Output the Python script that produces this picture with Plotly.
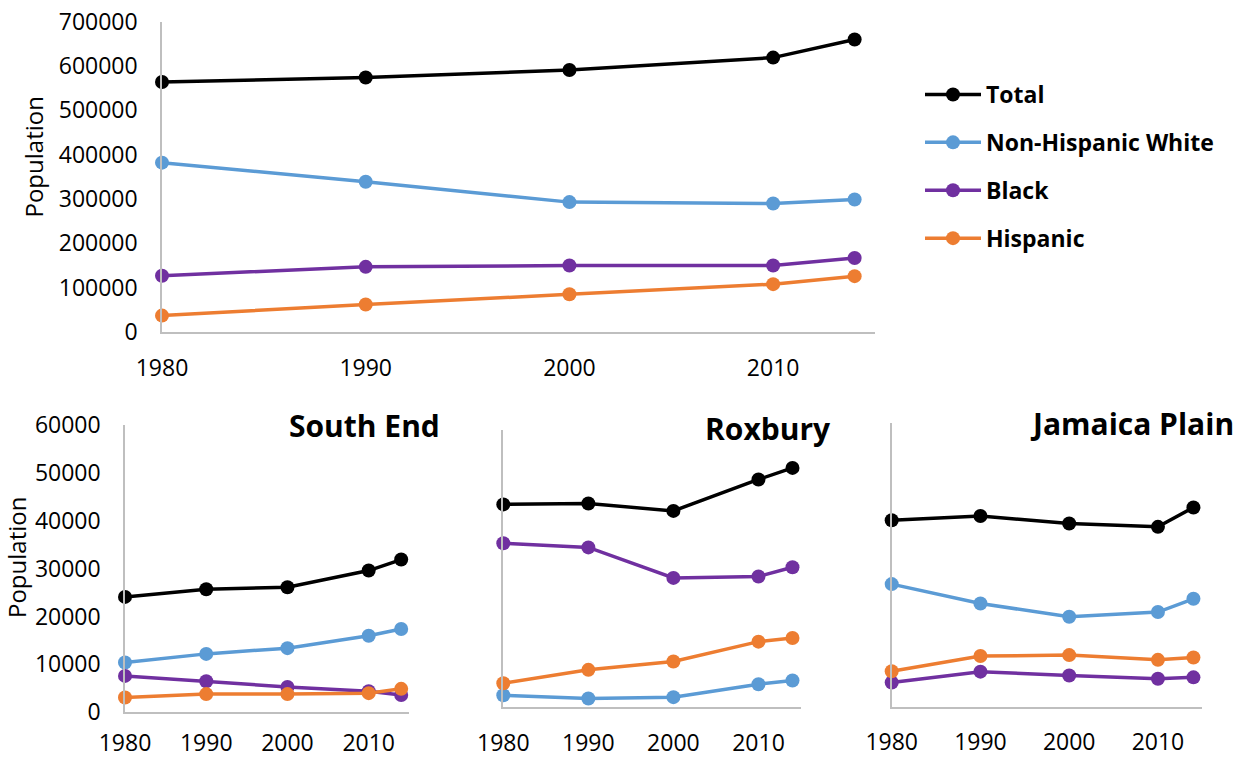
import plotly.graph_objects as go

# ---- data -------------------------------------------------------------
years = [1980, 1990, 2000, 2010, 2014]
year_ticks = [1980, 1990, 2000, 2010]

series_names = ["Total", "Non-Hispanic White", "Black", "Hispanic"]
series_colors = ["#000000", "#5B9BD5", "#7030A0", "#ED7D31"]

# Boston (city-wide)
boston_total = [564000, 574000, 591000, 619000, 660000]
boston_nhw = [382000, 339000, 293000, 290000, 299000]
boston_black = [127000, 147000, 150000, 150000, 167000]
boston_hispanic = [37000, 62000, 85000, 108000, 126000]

# South End
south_end_total = [24100, 25700, 26100, 29600, 31900]
south_end_nhw = [10400, 12200, 13400, 16000, 17400]
south_end_black = [7600, 6500, 5300, 4400, 3600]
south_end_hispanic = [3100, 3800, 3800, 4000, 4900]

# Roxbury
roxbury_total = [43900, 44100, 42500, 49300, 51800]
roxbury_nhw = [2600, 1900, 2200, 5000, 5800]
roxbury_black = [35500, 34600, 28000, 28300, 30300]
roxbury_hispanic = [5200, 8100, 9900, 14200, 15000]

# Jamaica Plain
jamaica_plain_total = [39400, 40300, 38700, 38000, 42100]
jamaica_plain_nhw = [25900, 21800, 19000, 20000, 22800]
jamaica_plain_black = [5100, 7400, 6600, 5900, 6200]
jamaica_plain_hispanic = [7500, 10700, 10900, 9900, 10400]

boston_y_ticks = [0, 100000, 200000, 300000, 400000, 500000, 600000, 700000]
neighborhood_y_ticks = [0, 10000, 20000, 30000, 40000, 50000, 60000]

# ---- layout helpers -----------------------------------------------------
W, H = 1247, 759
FONT = "Open Sans"
AXIS_GRAY = "#BFBFBF"
TICK_SIZE = 23


def px_x(p):
    return p / W


def px_y(p):
    return 1 - p / H


panels = [
    # (suffix, data, x-domain px, y-domain px (bottom, top), y max, y ticks,
    #  show y labels, x label standoff, title)
    ("", [boston_total, boston_nhw, boston_black, boston_hispanic],
     (162, 875), (332, 21.7), 700000, boston_y_ticks, True, 15, None),
    ("2", [south_end_total, south_end_nhw, south_end_black, south_end_hispanic],
     (125, 409.3), (712.3, 425), 60000, neighborhood_y_ticks, True, 9, "South End"),
    ("3", [roxbury_total, roxbury_nhw, roxbury_black, roxbury_hispanic],
     (503.3, 801), (707.3, 430), 60000, neighborhood_y_ticks, False, 14, "Roxbury"),
    ("4", [jamaica_plain_total, jamaica_plain_nhw, jamaica_plain_black, jamaica_plain_hispanic],
     (891.7, 1202.3), (706.7, 422.7), 60000, neighborhood_y_ticks, False, 14, "Jamaica Plain"),
]

fig = go.Figure()
layout_axes = {}

for idx, (suffix, data, xd, yd, ymax, yticks, show_ylabels, x_standoff, title) in enumerate(panels):
    for name, color, values in zip(series_names, series_colors, data):
        fig.add_trace(go.Scatter(
            x=years, y=values, name=name,
            mode="lines+markers",
            line=dict(color=color, width=3.5),
            marker=dict(color=color, size=14),
            xaxis="x" + suffix, yaxis="y" + suffix,
            legendgroup=name, showlegend=(idx == 0),
            cliponaxis=False,
        ))

    layout_axes["xaxis" + suffix] = dict(
        domain=[px_x(xd[0]), px_x(xd[1])], anchor="y" + suffix,
        range=[1980, 2015], tickvals=year_ticks, tickformat="d",
        showline=True, linecolor=AXIS_GRAY, linewidth=1.5,
        showgrid=False, zeroline=False, ticks="", automargin=False,
        ticklabelstandoff=x_standoff,
        tickfont=dict(family=FONT, size=TICK_SIZE, color="#000000"),
    )
    layout_axes["yaxis" + suffix] = dict(
        domain=[px_y(yd[0]), px_y(yd[1])], anchor="x" + suffix,
        range=[0, ymax], tickvals=yticks, tickformat="d",
        showticklabels=show_ylabels,
        showline=True, linecolor=AXIS_GRAY, linewidth=1.5,
        showgrid=False, zeroline=False, ticks="", automargin=False,
        ticklabelstandoff=18,
        tickfont=dict(family=FONT, size=TICK_SIZE, color="#000000"),
    )

annotations = [
    dict(text="Population", x=px_x(33), y=px_y(157.5), xref="paper", yref="paper",
         textangle=-90, showarrow=False, xanchor="center", yanchor="middle",
         font=dict(family=FONT, size=24, color="#000000")),
    dict(text="Population", x=px_x(16), y=px_y(558), xref="paper", yref="paper",
         textangle=-90, showarrow=False, xanchor="center", yanchor="middle",
         font=dict(family=FONT, size=24, color="#000000")),
]
title_pos = {"South End": (441.7, 425.5), "Roxbury": (832.7, 428), "Jamaica Plain": (1235.7, 424)}
for *_, title in panels:
    if title:
        tx, ty = title_pos[title]
        annotations.append(dict(
            text=title, x=px_x(tx), y=px_y(ty), xref="paper", yref="paper",
            showarrow=False, xanchor="right", yanchor="middle",
            font=dict(family=FONT, size=30, color="#000000", weight="bold"),
        ))

fig.update_layout(
    width=W, height=H,
    margin=dict(l=0, r=0, t=0, b=0, autoexpand=False),
    paper_bgcolor="#FFFFFF", plot_bgcolor="rgba(0,0,0,0)",
    font=dict(family=FONT, color="#000000"),
    showlegend=True,
    legend=dict(
        x=px_x(920), y=px_y(73), xanchor="left", yanchor="top",
        font=dict(family=FONT, size=23, color="#000000", weight="bold"),
        tracegroupgap=15, itemwidth=56, bgcolor="rgba(0,0,0,0)",
    ),
    annotations=annotations,
    **layout_axes,
)

fig.write_html("out.html")
